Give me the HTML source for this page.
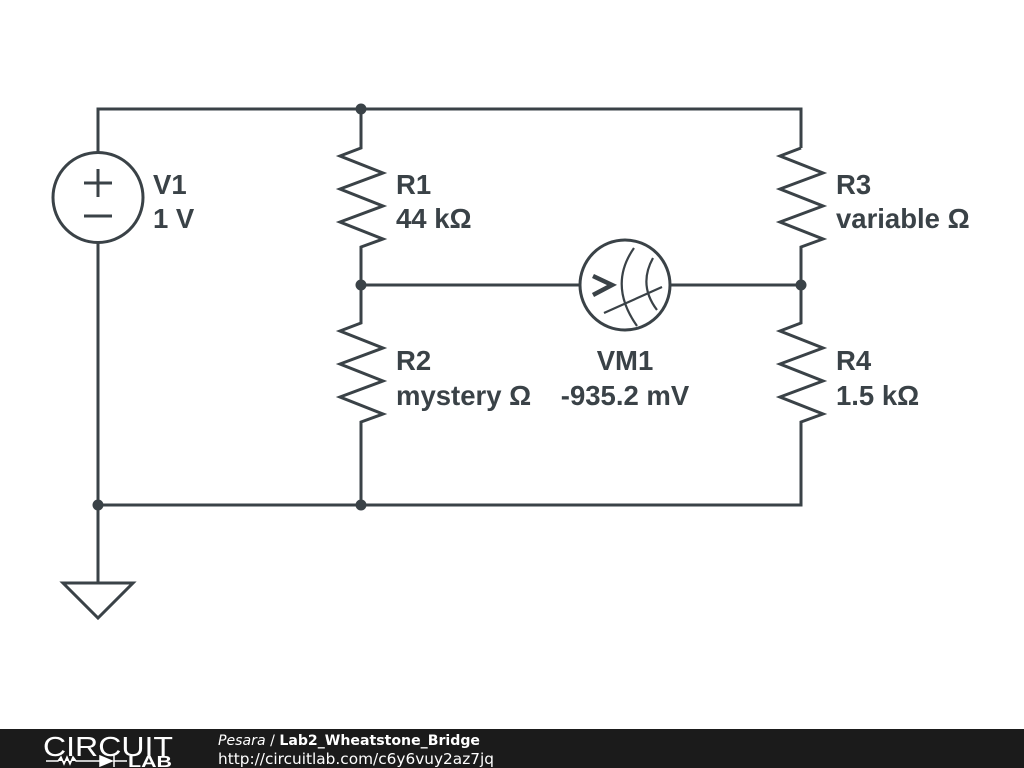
<!DOCTYPE html>
<html><head><meta charset="utf-8"><style>
body{margin:0;width:1024px;height:768px;background:#fff;overflow:hidden;position:relative}
svg{position:absolute;left:0;top:0}
</style></head><body>
<svg width="1024" height="768" viewBox="0 0 1024 768">
<g stroke="#3a4247" stroke-width="3" fill="none" stroke-linejoin="miter">
<path d="M98 152 V109 H801 V148"/>
<path d="M98 243 V583"/>
<path d="M63 583 H133 L98 618 Z"/>
<circle cx="98" cy="197.5" r="45"/>
<path d="M84 183 H112 M98 169 V197 M84 216 H112"/>
<path d="M361 109 V148 L340 156 L383 173 L340 189 L383 206 L340 222 L383 239 L361 247 V323 L340 331 L383 348 L340 364 L383 381 L340 397 L383 414 L361 422 V505"/>
<path d="M801 148 L780 156 L823 173 L780 189 L823 206 L780 222 L823 239 L801 247 V323 L780 331 L823 348 L780 364 L823 381 L780 397 L823 414 L801 422 V505 H98"/>
<path d="M361 285 H580 M670 285 H801"/>
<circle cx="625" cy="285" r="45"/>
<path d="M634 248 Q608 285 637 326 M653 258 Q638 285 657 310 M604 313 L662 287" stroke-width="2.2"/>
<path d="M593 276 L612 285 L593 295" stroke-width="4.5"/>
</g>
<g fill="#3a4247">
<circle cx="361" cy="109" r="5.5"/><circle cx="361" cy="285" r="5.5"/><circle cx="801" cy="285" r="5.5"/>
<circle cx="361" cy="505" r="5.5"/><circle cx="98" cy="505" r="5.5"/>
</g>
<g font-family="Liberation Sans, sans-serif" font-weight="bold" font-size="27.5" fill="#3a4247">
<text x="153" y="194">V1</text><text x="153" y="228">1 V</text>
<text x="396" y="194">R1</text><text x="396" y="228">44 kΩ</text>
<text x="396" y="370">R2</text><text x="396" y="405">mystery Ω</text>
<text x="836" y="194">R3</text><text x="836" y="228">variable Ω</text>
<text x="836" y="370">R4</text><text x="836" y="405">1.5 kΩ</text>
<text x="625" y="370" text-anchor="middle">VM1</text><text x="625" y="405" text-anchor="middle">-935.2 mV</text>
</g>
<rect x="0" y="729" width="1024" height="39" fill="#1b1b1b"/>
<g fill="#fff" font-family="DejaVu Sans, sans-serif">
<text x="43" y="756" font-size="28" font-family="Liberation Sans, sans-serif" textLength="130" lengthAdjust="spacingAndGlyphs">CIRCUIT</text>
<text x="128" y="767" font-size="16" font-weight="bold" font-family="Liberation Sans, sans-serif" textLength="44" lengthAdjust="spacingAndGlyphs">LAB</text>
<text x="218" y="745" font-size="14.5" textLength="262" lengthAdjust="spacingAndGlyphs"><tspan font-style="italic">Pesara</tspan> / <tspan font-weight="bold">Lab2_Wheatstone_Bridge</tspan></text>
<text x="218" y="764" font-size="15" textLength="276" lengthAdjust="spacingAndGlyphs">http://circuitlab.com/c6y6vuy2az7jq</text>
</g>
<path d="M46 761 H58 L61 757 L64 764 L67 757 L70 764 L73 757 L76 761 H100 M100 756 V766 L112 761 Z M114 755 V767 M114 761 H127" stroke="#fff" stroke-width="1.5" fill="#fff"/>
</svg>
</body></html>
